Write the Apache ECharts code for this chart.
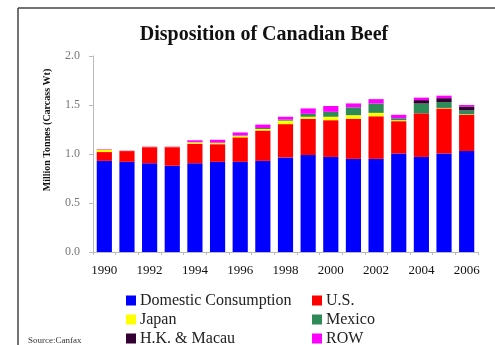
<!DOCTYPE html>
<html>
<head>
<meta charset="utf-8">
<script src="https://cdn.jsdelivr.net/npm/echarts@6/dist/echarts.min.js"></script>
<style>
  html, body { margin: 0; padding: 0; background: #fff; }
  #chart { width: 495px; height: 345px; }
</style>
</head>
<body>
<div id="chart"></div>
<script>
  // years on the x axis
  var years = ['1990', '1991', '1992', '1993', '1994', '1995', '1996', '1997', '1998',
               '1999', '2000', '2001', '2002', '2003', '2004', '2005', '2006'];

  // million tonnes, carcass weight
  var domestic = [0.93, 0.92, 0.905, 0.88, 0.905, 0.92, 0.92, 0.93, 0.965,
                  0.99, 0.97, 0.95, 0.95, 1.005, 0.97, 1.005, 1.03];
  var us       = [0.09, 0.11, 0.165, 0.19, 0.20, 0.18, 0.25, 0.31, 0.34,
                  0.37, 0.375, 0.41, 0.435, 0.33, 0.445, 0.46, 0.37];
  var japan    = [0.025, 0.003, 0.003, 0.003, 0.015, 0.015, 0.015, 0.015, 0.035,
                  0.02, 0.035, 0.036, 0.035, 0.01, 0, 0.005, 0.005];
  var mexico   = [0, 0, 0, 0, 0, 0, 0.005, 0.01, 0.01,
                  0.03, 0.05, 0.08, 0.095, 0.02, 0.10, 0.06, 0.04];
  var hkMacau  = [0, 0, 0, 0, 0, 0, 0, 0, 0,
                  0, 0, 0, 0, 0, 0.035, 0.04, 0.04];
  var row      = [0.005, 0.003, 0.003, 0.003, 0.02, 0.03, 0.03, 0.035, 0.03,
                  0.055, 0.06, 0.04, 0.045, 0.035, 0.025, 0.025, 0.015];

  var yTicks = [0, 0.5, 1.0, 1.5, 2.0];

  var serif = '"Liberation Serif", "DejaVu Serif", serif';

  function makeSeries(name, data) {
    return {
      type: 'bar',
      name: name,
      stack: 'total',
      barCategoryGap: '33%',
      data: data
    };
  }

  function makeLegend(left, names) {
    return {
      orient: 'vertical',
      left: left,
      top: 292,
      height: 120,
      padding: 0,
      itemGap: 2,
      itemWidth: 10,
      itemHeight: 10,
      icon: 'rect',
      textStyle: { fontFamily: serif, fontSize: 16, lineHeight: 17, color: '#222', padding: [0, 0, 0, -1] },
      data: names
    };
  }

  var chart = echarts.init(document.getElementById('chart'));

  chart.setOption({
    animation: false,
    color: ['#0000FF', '#FF0000', '#FFFF00', '#2E8B57', '#330033', '#FF00FF'],
    title: {
      text: 'Disposition of Canadian Beef',
      left: 259,
      textAlign: 'center',
      top: 20,
      textStyle: { fontFamily: serif, fontSize: 20, fontWeight: 'bold', color: '#111' }
    },
    /*two columns of legend*/
    legend: [
      makeLegend(126, ['Domestic Consumption', 'Japan', 'H.K. & Macau']),
      makeLegend(312, ['U.S.', 'Mexico', 'ROW'])
    ],
    grid: {
      left: 93,
      right: 17,
      top: 56,
      bottom: 93
    },
    xAxis: {
      type: 'category',
      data: years,
      axisLine: { lineStyle: { color: '#bbb', width: 1 } },
      axisTick: { show: true, interval: 0, length: 3, lineStyle: { color: '#bbb' } },
      axisLabel: {
        interval: 1,
        color: '#111',
        fontFamily: serif,
        fontSize: 13,
        margin: 12
      }
    },
    yAxis: {
      type: 'value',
      min: yTicks[0],
      max: yTicks[yTicks.length - 1],
      interval: 0.5,
      axisLine: { show: true, lineStyle: { color: '#bbb', width: 1 } },
      axisTick: { show: true, length: 4, lineStyle: { color: '#bbb' } },
      splitLine: { show: false },
      axisLabel: {
        color: '#777',
        fontFamily: serif,
        fontSize: 12,
        margin: 13,
        formatter: function (v) { return v.toFixed(1); }
      }
    },
    series: [
      makeSeries('Domestic Consumption', domestic),
      makeSeries('U.S.', us),
      makeSeries('Japan', japan),
      makeSeries('Mexico', mexico),
      makeSeries('H.K. & Macau', hkMacau),
      makeSeries('ROW', row)
    ],
    graphic: [
      // frame of the slide
      { type: 'line', shape: { x1: 18, y1: 8, x2: 495, y2: 8 }, style: { stroke: '#444', lineWidth: 1.5 } },
      { type: 'line', shape: { x1: 18, y1: 8, x2: 18, y2: 345 }, style: { stroke: '#444', lineWidth: 1.5 } },
      // y axis title
      {
        type: 'text',
        x: 47,
        y: 130,
        rotation: Math.PI / 2,
        style: {
          text: 'Million Tonnes (Carcass Wt)',
          font: 'bold 10px ' + serif,
          fill: '#111',
          align: 'center',
          verticalAlign: 'middle'
        }
      },
      {
        type: 'text',
        left: 28,
        top: 336,
        style: { text: 'Source:Canfax', font: '9px ' + serif, fill: '#333' }
      }
    ]
  });
</script>
</body>
</html>
